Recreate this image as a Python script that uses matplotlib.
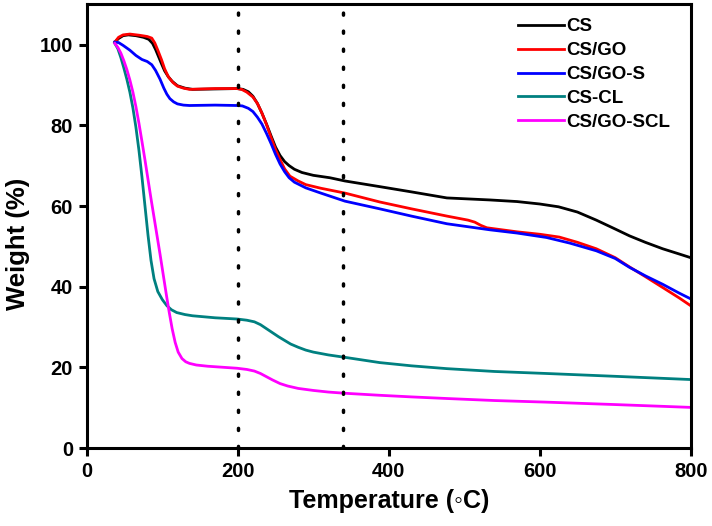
import matplotlib
matplotlib.use("Agg")
from matplotlib import pyplot as plt

# (temperature in C, weight in %)
cs_t = [37, 42, 48, 55, 65, 75, 82, 87, 91, 95, 99, 103, 108, 113, 120, 130,
        140, 170, 199, 207, 214, 220, 226, 232, 238, 244, 250, 256, 262, 268,
        275, 285, 300, 322, 342, 388, 430, 477, 534, 570, 600, 625, 650, 675,
        700, 719, 740, 763, 785, 800]
cs_w = [100.6, 101.5, 102.2, 102.4, 102.2, 101.8, 101.3, 100.3, 98.8, 97, 95.2,
        93.5, 92, 90.9, 89.8, 89.2, 88.9, 89, 89.1, 88.9, 88.3, 87.2, 85.4, 83,
        80.3, 77.4, 74.6, 72.5, 71, 70, 69.1, 68.3, 67.6, 67, 66.2, 64.8, 63.5,
        62, 61.5, 61.1, 60.5, 59.8, 58.5, 56.5, 54.3, 52.6, 51, 49.4, 48.1, 47.2]

csgo_t = [37, 42, 48, 57, 70, 80, 86, 90, 94, 99, 103, 108, 114, 120, 128, 136,
          170, 199, 205, 212, 220, 226, 232, 238, 244, 250, 256, 262, 269, 280,
          290, 310, 342, 388, 430, 477, 505, 514, 522, 530, 570, 600, 626, 650,
          675, 700, 719, 740, 763, 785, 800]
csgo_w = [100.6, 101.8, 102.4, 102.6, 102.3, 102, 101.6, 100.4, 98.6, 96.2,
          94, 92, 90.6, 89.7, 89.2, 88.9, 89.1, 89.1, 88.9, 88.2, 87, 85.4, 83,
          80.2, 77, 74, 71.5, 69.2, 67.4, 66.2, 65.3, 64.4, 63.2, 61, 59.3, 57.5,
          56.5, 56, 55.2, 54.6, 53.6, 53, 52.3, 51, 49.4, 47.2, 44.9, 42.5,
          39.8, 37.2, 35.3]

csgos_t = [37, 42, 48, 57, 65, 73, 80, 86, 91, 97, 102, 106, 110, 115, 120,
           128, 136, 170, 199, 206, 214, 220, 226, 232, 238, 244, 250, 256, 262,
           268, 275, 290, 310, 342, 388, 430, 477, 534, 570, 609, 640, 675, 700,
           719, 740, 763, 785, 800]
csgos_w = [100.6, 100.5, 99.8, 98.6, 97.3, 96.3, 95.8, 95, 93.6, 91.4, 89.2,
           87.7, 86.6, 85.8, 85.3, 85, 84.9, 85, 84.9, 84.8, 84.2, 83.4, 82,
           80.3, 78, 75.5, 72.8, 70.4, 68.5, 67, 65.9, 64.5, 63.2, 61.2, 59.3,
           57.5, 55.6, 54.1, 53.3, 52.2, 50.8, 48.9, 47, 44.8, 42.7, 40.6, 38.4,
           37]

cscl_t = [37, 41, 45, 49, 53, 57, 61, 65, 69, 73, 77, 81, 85, 89, 94, 100, 106,
          112, 119, 130, 140, 170, 199, 212, 222, 230, 238, 246, 254, 262, 270,
          280, 290, 300, 320, 342, 388, 430, 477, 540, 609, 700, 800]
cscl_w = [100.3, 99, 96.8, 94.2, 91.4, 88.2, 84.3, 79.5, 73.8, 67.2, 60, 52.8,
          46.5, 42, 38.8, 36.8, 35.3, 34.3, 33.6, 33.1, 32.8, 32.3, 32, 31.7,
          31.3, 30.6, 29.6, 28.6, 27.6, 26.7, 25.8, 25, 24.3, 23.8, 23.1, 22.5,
          21.2, 20.4, 19.7, 19, 18.5, 17.8, 17]

csgoscl_t = [37, 41, 45, 49, 53, 57, 61, 65, 69, 73, 77, 81, 85, 89, 93, 97,
             101, 105, 109, 113, 117, 121, 126, 131, 136, 145, 160, 199, 212,
             222, 230, 238, 246, 256, 266, 280, 300, 320, 342, 388, 430, 477,
             540, 609, 700, 800]
csgoscl_w = [100.3, 99.3, 97.9, 96, 93.8, 91.2, 88.2, 84.6, 80.5, 76, 71.4,
             66.6, 61.8, 57.2, 52.6, 48, 43.2, 38.4, 33.8, 29.6, 26.2, 23.8, 22.2,
             21.4, 21, 20.6, 20.3, 19.8, 19.5, 19.1, 18.5, 17.7, 16.9, 16, 15.4,
             14.8, 14.3, 13.9, 13.6, 13.1, 12.7, 12.3, 11.8, 11.4, 10.8, 10.1]

labels = ["CS", "CS/GO", "CS/GO-S", "CS-CL", "CS/GO-SCL"]
colors = ["black", "#ff0000", "#0000ff", "#008080", "#ff00ff"]
marker_lines = [200, 340]

plt.rcParams["font.family"] = ["Liberation Sans", "DejaVu Sans"]
plt.rcParams["font.weight"] = "bold"

fig = plt.figure(figsize=(7.12, 5.26), dpi=100)
ax = fig.add_axes([0.122, 0.148, 0.848, 0.844])

series = [(cs_t, cs_w), (csgo_t, csgo_w), (csgos_t, csgos_w),
          (cscl_t, cscl_w), (csgoscl_t, csgoscl_w)]
for (t, w), lab, col in zip(series, labels, colors):
    ax.plot(t, w, color=col, lw=2.0, label=lab)

for xv in marker_lines:
    ax.axvline(xv, color="black", lw=2.5, linestyle=(0, (0.6, 4.6)),
               dash_capstyle="round")

ax.set_xlim(0, 800)
ax.set_ylim(0, 110)
ax.set_xticks([0, 200, 400, 600, 800])
ax.set_yticks([0, 20, 40, 60, 80, 100])

for s in ax.spines.values():
    s.set_linewidth(2.2)
ax.tick_params(direction="out", length=6, width=2.2, labelsize=14.5, pad=4)
for lbl in ax.get_xticklabels() + ax.get_yticklabels():
    lbl.set_fontweight("bold")

ax.set_xlabel("Temperature (\u25e6C)", fontsize=18, fontweight="bold", labelpad=6,
              family=["Liberation Sans", "DejaVu Sans"])
ax.set_ylabel("Weight (%)", fontsize=18.5, fontweight="bold")
ax.yaxis.set_label_coords(-0.094, 0.46)

leg = ax.legend(loc="upper right", frameon=False, fontsize=13.5,
                handlelength=2.45, handletextpad=0.15, labelspacing=0.36,
                borderaxespad=0.35, bbox_to_anchor=(0.99, 1.0))
for txt in leg.get_texts():
    txt.set_fontweight("bold")

fig.savefig("out.png", dpi=100)
